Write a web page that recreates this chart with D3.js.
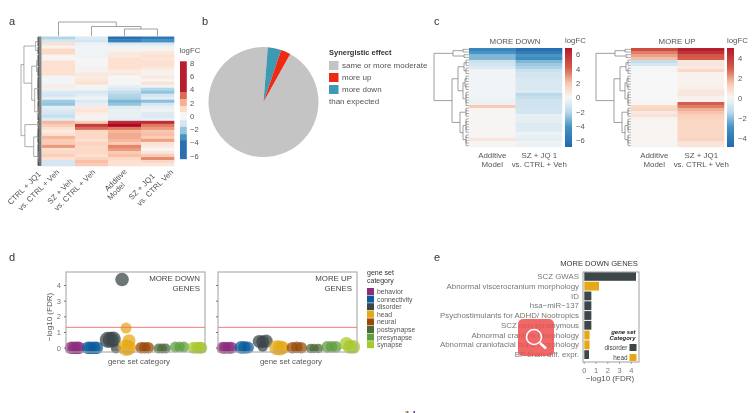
<!DOCTYPE html>
<html><head><meta charset="utf-8">
<script src="https://cdn.jsdelivr.net/npm/d3@7"></script>
<style>
html,body{margin:0;padding:0;background:#fff;overflow:hidden}
svg{display:block;filter:blur(0.75px)}
text{font-family:"Liberation Sans",Arial,sans-serif;fill:#555}
</style></head><body>
<script>
// ---- panel a ----
const aColumns = [["CTRL + JQ1","vs. CTRL + Veh"],["SZ + Veh","vs. CTRL + Veh"],["Additive","Model"],["SZ + JQ1","vs. CTRL Veh"]];
const aCtrlJq1 = [-1.5,-1,1,.2,1.2,1.2,.1,.1,1,1,1,1,1,-.1,-.1,-.1,.5,-.2,-.8,-1,-.4,-1.8,-2,-.5,-.8,-1,-1.2,-.7, 2,1.5,1,.5,1,2,1.5,1.5,2.5,1,1.2,1.4,1,-1,-1];
const aSzVeh   = [-.8,-1,-.3,-.2,-.2,-.2,-.2,-.1,.1,.1,-.2,.2,.7,.5,.7,1,.1,-.2,-.9,-.6,-.2,-.8,-.5,.6,.8,.5,.2,-.2, 1.5,3.8,3.2,1.2,1.2,1.2,1,1.3,1.2,1.2,1.2,1,1.3,1.8,1.5];
const aAdditive= [-5,-4,-.7,-.2,.2,.6,.6,1,1,1,1,.5,.6,0,-.1,0,-.4,-.8,-1.2,-1.5,-1.6,-2.3,-2,-.6,-.4,-.4,-.4,-.6, 4,4.5,3,2,2.2,2.2,2,1.5,2.8,2.5,1.5,1.8,1.2,1,1];
const aSzJq1   = [-4.5,-3,-.8,-.2,.2,.7,1,.8,1,1,.7,.2,.2,.6,.1,.9,-.2,-1.5,-2,-1,-.6,-2.1,-1,-.4,-.2,-.7,-.8,-.4, 4,3,2.5,1.6,1.8,1.5,2.4,.9,.6,0,.8,1.5,2.7,1.2,.8];
const aBinEdges = [-3.6,-2.7,-1.6,-.6,.6,1.5,2.6,3.6];
const aBinColors = ["#2b6fb3","#4393c3","#92c5de","#d3e6f1","#f6f6f6","#fddcc9","#f6b093","#dc6b52","#b81d30"];
const aTicks = [8,6,4,2,0,-2,-4,-6];
const aRowTree = [21,[18,[6,10,8],[10,[5,12,10],[7,[4,12,12],[3,12,8]]]],[17,[3,4,3],[8,[4,10,6],[3,14,8]]]];
const aColTree = [14,0,[9.5,1,[7,2,3]]];
// ---- panel b ----
const pieLabels = ["same or more moderate","more up","more down"];
const pieValues = [93.2,2.85,3.95];
const pieColors = ["#c4c4c4","#ee2a12","#3d9ab2"];
const pieDrawOrder = [0,2,1];
// ---- panel c ----
const cDownAdd = [-5,-4,-3,-3,-1.5,-1.2,-.9,-.2,-.2,-.2,-.2,-.2,-.3,-.2,-.2,-.2,-.3,-.4,-.4,2,.1,.1,.1,.1,.1,.1,.1,.1,.1,.1,.8,.1,.1];
const cDownSz  = [-6.5,-5.5,-4,-4.5,-3,-2.5,-2.2,-1.5,-1.2,-1.2,-1,-1,-1,-1,-.8,-2,-1.6,-1.3,-1.3,-1.3,-1.2,-1.2,-.5,-.6,-.6,-.9,-.8,-.8,-.3,-.5,-.6,-.3,-.4];
const cUpAdd = [3.5,2.5,2,1.6,-1.2,-.8,-.1,-.1,0,0,0,0,0,0,0,0,0,0,.1,.9,1.1,.4,.7,.2,.1,.1,.1,.1,.1,.1,.1,.1,.1];
const cUpSz  = [4.8,4.2,3.2,3,.5,.6,.4,1,.2,.2,.2,.2,.2,.3,.5,.5,.2,.2,3,2.5,1.8,1.5,1.2,1.1,1,1,1,1,1,1,1.1,.6,.6];
const cColumns = [["Additive","Model"],["SZ + JQ 1","vs. CTRL + Veh"]];
const cColumns2 = [["Additive","Model"],["SZ + JQ1","vs. CTRL + Veh"]];
const cTree = [35,[16,[6,1,1],[5,1,1]],[17,[11,[5,3,3],[6,[4,3,3],[3,3,3]]],[9,[3,2,2],[6,[3,3,3],[3,2,3]]]]];
const cDownTicks = [6,4,2,0,-2,-4,-6];
const cUpTicks = [4,2,0,-2,-4];
// ---- panel d ----
const catNames = ["behavior","connectivity","disorder","head","neural","postsynapse","presynapse","synapse"];
const catColors = ["#8e2c7c","#0b5c9e","#3d4649","#e6a817","#9a4a05","#4c6b3a","#5f9e41","#a8c92c"];
const downCat = [0,0,0,0,1,1,1,1,2,2,2,2,2,3,3,3,3,4,4,4,5,5,5,6,6,6,7,7,7,7];
const downJit = [-.22,-.05,.1,.22,-.25,-.1,.1,.25,-.12,.05,.2,.35,.7,-.07,.1,-.07,.08,-.2,0,.2,-.2,0,.2,-.25,0,.25,-.2,0,.15,.25];
const downVal = [0,0,0,0,0,0,0,0,.5,.5,.55,-.05,4.35,1.25,.45,0,0,0,0,0,-.05,-.05,-.05,.05,.05,.05,0,0,0,0];
const downR   = [6.3,6.3,6.3,6.3,6.3,6.3,6.3,6.3,8,8,7.5,5,6.8,5.5,6.5,8.3,7.5,5.8,5.8,5.8,5,5,5,5.3,5.3,5.3,6,6,6,6];
const upCat = [0,0,0,0,1,1,1,2,2,2,2,3,3,3,4,4,4,5,5,5,6,6,6,7,7,7];
const upJit = [-.25,-.1,.1,.25,-.2,0,.2,-.15,.05,.25,.05,-.15,.05,.2,-.25,0,.25,-.2,0,.25,-.25,0,.25,-.15,.05,.25];
const upVal = [0,0,0,0,.02,.02,.02,.4,.38,.42,.05,0,-.02,0,0,.02,0,-.05,-.05,-.05,.05,.05,.05,.25,.05,.05];
const upR   = [6,6,6,6,6.3,6.3,6,6.5,6.5,6.5,5,7.5,7.5,6.5,5.8,5.8,5.8,4.7,4.7,4.7,5.8,5.8,5.8,6.8,6.8,6.8];
const dYTicks = [0,1,2,3,4];
const fdrLine = 1.3;
// ---- panel e ----
const eLabels = ["SCZ GWAS","Abnormal viscerocranium morphology","ID","hsa\u2212miR\u2212137","Psychostimulants for ADHD/ Nootropics","SCZ non-synonymous","Abnormal cranium morphology","Abnormal craniofacial bone morphology","BP brain diff. expr."];
const eValues = [4.4,1.25,.6,.6,.6,.6,.45,.45,.4];
const eCats   = ["disorder","head","disorder","disorder","disorder","disorder","head","head","disorder"];
const eTicks = [0,1,2,3,4];

const svg = d3.select("body").append("svg").attr("width",754).attr("height",413);
const txt = (x,y,s,size,anchor="start",extra={})=>{
  const t=svg.append("text").attr("x",x).attr("y",y).attr("font-size",size).attr("text-anchor",anchor).text(s);
  Object.entries(extra).forEach(([k,v])=>t.style(k,v));return t;};
[["a",9,25],["b",202,25],["c",434,25],["d",9,261],["e",434,261]].forEach(([s,x,y])=>txt(x,y,s,11,"start",{fill:"#333"}));

function countLeaves(n){return typeof n==="number"?n:countLeaves(n[1])+countLeaves(n[2]);}
function drawRowTree(g,tree,hScale,yRange,fanH,col,fanCol){
  const total=countLeaves(tree),yS=d3.scaleLinear().domain([0,total]).range(yRange);
  let idx=0;
  const line=(x1,y1,x2,y2,c=col,w=.7)=>g.append("line").attr("x1",x1).attr("y1",y1).attr("x2",x2).attr("y2",y2).attr("stroke",c).attr("stroke-width",w);
  (function walk(n){
    if(typeof n==="number"){
      const ys=d3.range(n).map(()=>yS(idx++ +.5));
      ys.forEach(y=>line(hScale(fanH),y,hScale(0),y,fanCol,.6));
      line(hScale(fanH),ys[0],hScale(fanH),ys[ys.length-1],fanCol,.7);
      return {h:fanH,y:d3.mean(ys)};
    }
    const a=walk(n[1]),b=walk(n[2]),x=hScale(n[0]);
    line(x,a.y,x,b.y);
    line(x,a.y,hScale(a.h),a.y);
    line(x,b.y,hScale(b.h),b.y);
    return {h:n[0],y:(a.y+b.y)/2};
  })(tree);
}
function heat(cols,x0,x1,y0,y1,colorFn){
  const xS=d3.scaleBand().domain(d3.range(cols.length)).range([x0,x1]);
  const yS=d3.scaleBand().domain(d3.range(cols[0].length)).range([y0,y1]);
  cols.forEach((vals,c)=>svg.append("g").selectAll("rect").data(vals).join("rect")
    .attr("x",xS(c)).attr("y",(d,i)=>yS(i)).attr("width",xS.bandwidth()+.3).attr("height",yS.bandwidth()+.3)
    .attr("fill",d=>colorFn(d)));
  return xS;
}
// --- a
const aCell=d3.scaleLinear().domain([-5,-3,-2,-1,0,1,2,3,4.2]).range(["#2b6fb3","#4393c3","#92c5de","#d3e6f1","#f6f6f6","#fde0d0","#f7b79c","#e07a5f","#b81d30"]);
const aX=heat([aCtrlJq1,aSzVeh,aAdditive,aSzJq1],42,174,36.5,166,aCell);
drawRowTree(svg.append("g"),aRowTree,d3.scaleLinear().domain([0,21]).range([41.5,21]),[36.5,166],3.6,"#8a8a8a","#111");
(function(){
  const hS=d3.scaleLinear().domain([0,14]).range([36,22]);
  const g=svg.append("g");
  const L=(a,b,c,d)=>g.append("line").attr("x1",a).attr("y1",b).attr("x2",c).attr("y2",d).attr("stroke","#8a8a8a").attr("stroke-width",.8);
  (function w(n){
    if(typeof n==="number")return {x:aX(n)+aX.bandwidth()/2,h:0};
    const a=w(n[1]),b=w(n[2]),y=hS(n[0]);
    L(a.x,y,b.x,y);L(a.x,y,a.x,hS(a.h));L(b.x,y,b.x,hS(b.h));
    return {x:(a.x+b.x)/2,h:n[0]};
  })(aColTree);
})();
aColumns.forEach((c,i)=>{
  const pos=[[[26,190],[40.5,192]],[[62,193],[76.5,192]],[[117.5,182],[118,193]],[[143.5,188.5],[157,189.5]]][i];
  c.forEach((s,k)=>svg.append("text").attr("transform",`translate(${pos[k][0]},${pos[k][1]}) rotate(-45)`).attr("text-anchor","middle").attr("font-size",7.8).text(s));
});
(function(){
  const y=d3.scaleLinear().domain([8,-6]).range([63.3,156]);
  const edges=[8.3,...aBinEdges.slice().reverse(),-6.45];
  const cols=aBinColors.slice().reverse();
  svg.append("g").selectAll("rect").data(cols).join("rect")
    .attr("x",180).attr("width",6.8).attr("y",(d,i)=>y(edges[i])).attr("height",(d,i)=>y(edges[i+1])-y(edges[i])+.2).attr("fill",d=>d);
  aTicks.forEach(t=>txt(190,y(t)+2.7,String(t).replace("-","\u2212"),7.6));
  txt(179.5,53,"logFC",7.8);
})();
// --- b
(function(){
  const pie=d3.pie().sort(null).startAngle(29*Math.PI/180).endAngle((29+360)*Math.PI/180)(pieDrawOrder.map(i=>pieValues[i]));
  const arc=d3.arc().innerRadius(0).outerRadius(55);
  svg.append("g").attr("transform","translate(263.5,102)").selectAll("path").data(pie).join("path")
    .attr("d",arc).attr("fill",(d,i)=>pieColors[pieDrawOrder[i]]);
  txt(329,55,"Synergistic effect",7.5,"start",{"font-weight":"bold",fill:"#333"});
  pieLabels.forEach((l,i)=>{
    const y=[61,73,85][i];
    svg.append("rect").attr("x",329).attr("y",y).attr("width",9.5).attr("height",9).attr("fill",pieColors[i]);
    txt(342,[67.5,80,92][i],l,8);
  });
  txt(329,104,"than expected",8);
})();
// --- c
function panelC(cols,labels,x0,title,maxV,ticks,topV,botV){
  const stops=[-1,-.58,-.28,0,.28,.58,1].map(f=>f*maxV);
  const col=d3.scaleLinear().domain(stops).range(["#2166ac","#4393c3","#bcdaeb","#f7f7f7","#fbcbb2","#d6604d","#b2182b"]);
  const xS=heat(cols,x0,x0+93,48,147,col);
  drawRowTree(svg.append("g"),cTree,d3.scaleLinear().domain([0,35]).range([x0,x0-35]),[48,147],3,"#777","#777");
  const y=d3.scaleLinear().domain([topV,botV]).range([48,147]);
  const id="g"+x0;
  const lg=svg.append("defs").append("linearGradient").attr("id",id).attr("x1",0).attr("x2",0).attr("y1",0).attr("y2",1);
  d3.range(0,1.001,.05).forEach(f=>lg.append("stop").attr("offset",f).attr("stop-color",col(topV+(botV-topV)*f)));
  svg.append("rect").attr("x",x0+96).attr("y",48).attr("width",7).attr("height",99).attr("fill",`url(#${id})`);
  ticks.forEach(t=>txt(x0+107,y(t)+2.7,String(t).replace("-","\u2212"),7.6));
  txt(x0+96,43,"logFC",7.8);
  txt(x0+46,44,title,7.9,"middle");
  labels.forEach((l,i)=>{
    const cx=xS(i)+xS.bandwidth()/2+(i==1?.5:0);
    txt(cx,157.5,l[0],7.9,"middle");txt(cx,166.5,l[1],7.9,"middle");
  });
}
panelC([cDownAdd,cDownSz],cColumns,469,"MORE DOWN",7,cDownTicks,6.95,-6.9);
panelC([cUpAdd,cUpSz],cColumns2,631,"MORE UP",5,cUpTicks,5,-4.9);
// --- d
const dY=d3.scaleLinear().domain([0,4]).range([347.7,285]);
function panelD(x0,cat,jit,val,rad,t1,t2,yAxis){
  const xP=d3.scalePoint().domain(d3.range(8)).range([x0+9,x0+131]);
  const step=xP.step();
  svg.append("g").selectAll("circle").data(val).join("circle")
    .attr("cx",(d,i)=>xP(cat[i])+jit[i]*step).attr("cy",d=>dY(d)).attr("r",(d,i)=>rad[i])
    .attr("fill",(d,i)=>catColors[cat[i]]).attr("fill-opacity",.74);
  svg.append("rect").attr("x",x0).attr("y",272).attr("width",139).attr("height",80).attr("fill","none").attr("stroke","#a8a8a8").attr("stroke-width",1.1);
  svg.append("line").attr("x1",x0).attr("x2",x0+139).attr("y1",dY(fdrLine)).attr("y2",dY(fdrLine)).attr("stroke","#ee7a78").attr("stroke-width",1);
  const ax=svg.append("g").attr("transform",`translate(${x0},0)`).call(d3.axisLeft(dY).tickValues(dYTicks).tickSize(2).tickFormat(yAxis?d3.format("d"):""));
  ax.select(".domain").remove();ax.selectAll("line").attr("stroke","#777");
  ax.selectAll("text").attr("font-size",7.5).style("font-family",'"Liberation Sans"').style("fill","#777");
  txt(x0+134,281,t1,7.9,"end",{fill:"#444"});txt(x0+134,291,t2,7.9,"end",{fill:"#444"});
  txt(x0+73,363.5,"gene set category",7.8,"middle");
}
panelD(66,downCat,downJit,downVal,downR,"MORE DOWN","GENES",true);
panelD(218,upCat,upJit,upVal,upR,"MORE UP","GENES",false);
svg.append("text").attr("transform","translate(52,317) rotate(-90)").attr("text-anchor","middle").attr("font-size",8).text("\u2212log10 (FDR)");
txt(367,275,"gene set",7,"start",{fill:"#333"});txt(367,282.5,"category",7,"start",{fill:"#333"});
catNames.forEach((c,i)=>{
  svg.append("rect").attr("x",367).attr("y",288+i*7.6).attr("width",7).attr("height",7).attr("fill",catColors[i]);
  txt(377,294+i*7.6,c,6.8);
});
// --- e
(function(){
  const x=d3.scaleLinear().domain([0,4]).range([584.3,631.3]);
  const y=d3.scaleBand().domain(eLabels).range([271.5,359.5]).paddingInner(.1).paddingOuter(.05);
  const col=c=>c==="head"?"#e6a817":"#3d4649";
  svg.append("g").selectAll("rect").data(eValues).join("rect")
    .attr("x",x(0)).attr("y",(d,i)=>y(eLabels[i])).attr("width",d=>x(d)-x(0)).attr("height",y.bandwidth()).attr("fill",(d,i)=>col(eCats[i]));
  svg.append("rect").attr("x",583).attr("y",272).attr("width",56).attr("height",90).attr("fill","none").attr("stroke","#a8a8a8").attr("stroke-width",1.1);
  eLabels.forEach(l=>txt(579,y(l)+y.bandwidth()/2+2.6,l,7.9,"end",{fill:"#777"}));
  eTicks.forEach(t=>{
    svg.append("line").attr("x1",x(t)).attr("x2",x(t)).attr("y1",362).attr("y2",364).attr("stroke","#777").attr("stroke-width",.6);
    txt(x(t),372.5,t,7.5,"middle",{fill:"#777"});
  });
  txt(599,266,"MORE DOWN GENES",7.6,"middle",{fill:"#333"});
  txt(610,381,"\u2212log10 (FDR)",8,"middle");
  txt(635.5,334,"gene set",6,"end",{"font-weight":"bold","font-style":"italic",fill:"#222"});
  txt(635.5,340,"Category",6,"end",{"font-weight":"bold","font-style":"italic",fill:"#222"});
  [["disorder",344],["head",354]].forEach(([c,yy])=>{
    svg.append("rect").attr("x",629.5).attr("y",yy).attr("width",7).attr("height",7).attr("fill",col(c));
    txt(627.5,yy+6,c,6.4,"end",{fill:"#444"});
  });
  const b=svg.append("g");
  b.append("rect").attr("x",518).attr("y",319).attr("width",36).attr("height",37).attr("rx",5).attr("fill","#ec4f4f").attr("fill-opacity",.85);
  b.append("circle").attr("cx",534).attr("cy",337).attr("r",7.5).attr("fill","none").attr("stroke","#fff").attr("stroke-width",1.6);
  b.append("line").attr("x1",540).attr("y1",343).attr("x2",546).attr("y2",348.5).attr("stroke","#fff").attr("stroke-width",2.6);
  // tiny marks clipped at the bottom edge
  [[405.5,"#e8a33d"],[407,"#4a7fb5"],[413.5,"#5b2a86"]].forEach(([mx,mc])=>svg.append("rect").attr("x",mx).attr("y",411).attr("width",1.4).attr("height",2).attr("fill",mc));
})();
</script></body></html>
